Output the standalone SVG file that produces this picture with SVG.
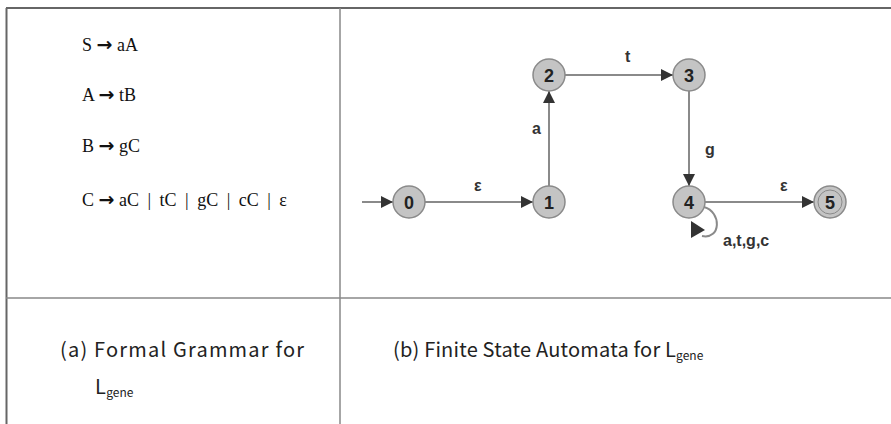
<svg xmlns="http://www.w3.org/2000/svg" width="891" height="424" viewBox="0 0 891 424">
<style>
.g{font-family:"Liberation Serif","Times New Roman",serif;font-size:18px;fill:#111}
.ar{font-family:"DejaVu Sans",sans-serif;font-weight:bold;font-size:19px}
.cap{font-family:"Noto Sans CJK KR","Noto Sans",sans-serif;font-size:20px;fill:#222;letter-spacing:0.4px}
.sub{font-size:12px;letter-spacing:0}
.st{fill:#c4c4c4;stroke:#8a8a8a;stroke-width:1.5}
.nl{font-family:"Liberation Sans",Arial,sans-serif;font-weight:bold;font-size:18px;fill:#222;text-anchor:middle}
.el{font-family:"Liberation Sans",Arial,sans-serif;font-weight:bold;font-size:16px;fill:#333}
.e{stroke:#8a8a8a;stroke-width:2;fill:none}
</style>
<defs>
<marker id="ah" viewBox="0 0 10 10" refX="10" refY="5" markerWidth="6" markerHeight="6" orient="auto" markerUnits="strokeWidth">
<path d="M0,0 L10,5 L0,10 z" fill="#333"/>
</marker>
</defs>
<rect width="891" height="424" fill="#fff"/>
<g id="table">
<line x1="6" y1="8" x2="891" y2="8" stroke="#333" stroke-width="1.5"/>
<line x1="6.5" y1="8" x2="6.5" y2="424" stroke="#666" stroke-width="2"/>
<line x1="340" y1="8" x2="340" y2="424" stroke="#888" stroke-width="1.5"/>
<line x1="6" y1="298" x2="891" y2="298" stroke="#888" stroke-width="1.5"/>
</g>
<g id="grammar">
<text class="g" x="82" y="51">S <tspan class="ar">→</tspan> aA</text>
<text class="g" x="82" y="101">A <tspan class="ar">→</tspan> tB</text>
<text class="g" x="82" y="152">B <tspan class="ar">→</tspan> gC</text>
<text class="g" x="82" y="206">C <tspan class="ar">→</tspan> <tspan word-spacing="4">aC | tC | gC | cC | ε</tspan></text>
</g>
<g id="connectors">
<line class="e" x1="362" y1="202" x2="393" y2="202" marker-end="url(#ah)"/>
<line class="e" x1="425" y1="202" x2="533" y2="202" marker-end="url(#ah)"/>
<line class="e" x1="549" y1="186" x2="549" y2="91" marker-end="url(#ah)"/>
<line class="e" x1="565" y1="75" x2="673" y2="75" marker-end="url(#ah)"/>
<line class="e" x1="689" y1="91" x2="689" y2="186" marker-end="url(#ah)"/>
<line class="e" x1="705" y1="202" x2="814" y2="202" marker-end="url(#ah)"/>
<path class="e" d="M704,207 C722,212 721,240 702,236" stroke-width="1.5"/>
<path d="M691,221 L705,230 L691,238 z" fill="#333"/>
<text class="el" x="474" y="191">ε</text>
<text class="el" x="532" y="134">a</text>
<text class="el" x="625" y="62">t</text>
<text class="el" x="705" y="155">g</text>
<text class="el" x="780" y="191">ε</text>
<text class="el" x="723" y="246">a,t,g,c</text>
</g>
<g id="s0"><circle class="st" cx="409" cy="202" r="16"/><text class="nl" x="409" y="208.5">0</text></g>
<g id="s1"><circle class="st" cx="549" cy="202" r="16"/><text class="nl" x="549" y="208.5">1</text></g>
<g id="s2"><circle class="st" cx="549" cy="75" r="16"/><text class="nl" x="549" y="81.5">2</text></g>
<g id="s3"><circle class="st" cx="689" cy="75" r="16"/><text class="nl" x="689" y="81.5">3</text></g>
<g id="s4"><circle class="st" cx="689" cy="202" r="16"/><text class="nl" x="689" y="208.5">4</text></g>
<g id="s5"><circle class="st" cx="830" cy="202" r="16"/><circle cx="830" cy="202" r="12" fill="none" stroke="#8a8a8a" stroke-width="1"/><text class="nl" x="830" y="208.5">5</text></g>
<g id="captions">
<text class="cap" x="60" y="357" style="letter-spacing:1.2px">(a)  Formal Grammar for</text>
<text class="cap" x="95" y="394">L<tspan class="sub" dy="3">gene</tspan></text>
<text class="cap" x="393" y="357" style="letter-spacing:0.2px">(b) Finite State Automata for L<tspan class="sub" dy="3">gene</tspan></text>
</g>
</svg>
